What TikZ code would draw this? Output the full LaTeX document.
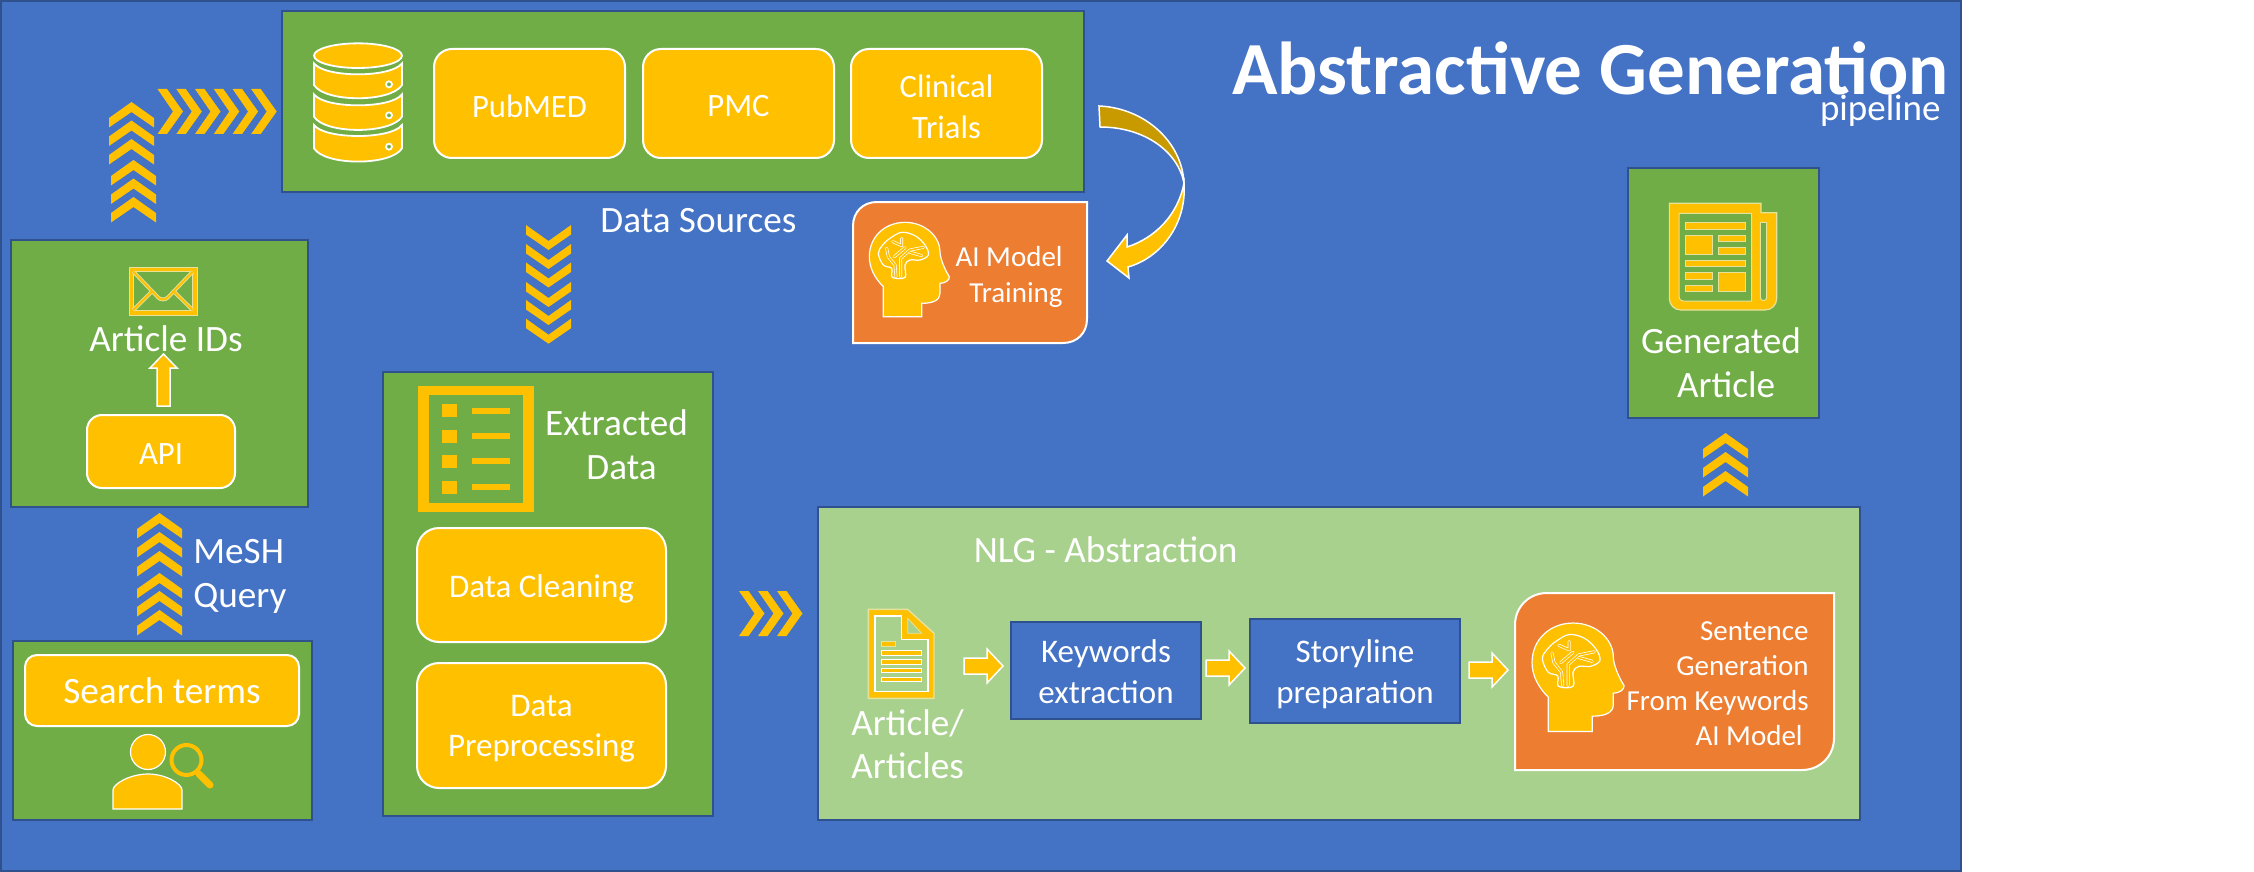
\documentclass[tikz,border=0pt]{standalone}
\usepackage{fontspec}
\setmainfont{Carlito}
\definecolor{bgblue}{HTML}{4472C4}
\definecolor{edgeblue}{HTML}{2F528F}
\definecolor{okgreen}{HTML}{70AD47}
\definecolor{lightgreen}{HTML}{A9D18E}
\definecolor{gold}{HTML}{FFC000}
\definecolor{darkgold}{HTML}{C99A00}
\definecolor{orangebox}{HTML}{ED7D31}
\definecolor{paleedge}{HTML}{E6E29A}
\newcommand\dn[1]{\raisebox{-1.5pt}[\height][\depth]{#1}}
\newcommand\dnb[1]{\raisebox{-2pt}[\height][\depth]{#1}}
\newcommand\dns[1]{\raisebox{-.5pt}[\height][\depth]{#1}}
\tikzset{
  panel/.style={draw=edgeblue,line width=1.25pt,fill=okgreen,inner sep=0pt},
  lightpanel/.style={panel,fill=lightgreen},
  bluebox/.style={panel,fill=bgblue,text=white,font=\fontsize{16.5}{20.5}\selectfont,align=center},
  rbox/.style={draw=white,line width=1pt,fill=gold,text=white,inner sep=0pt,align=center,font=\fontsize{16.3}{20.5}\selectfont},
  lab/.style={text=white,inner sep=0pt,font=\fontsize{18.6}{22}\selectfont},
  chev/.style={fill=gold},
  orbox/.style={fill=orangebox,draw=white,line width=1pt},
  flow/.style={fill=gold,draw=white,line width=.75pt,line join=miter},
  iconfill/.style={fill=gold,draw=paleedge,line width=.5pt},
}
\newcommand\chevU[3]{\fill[chev] ({#1-#3},{#2+16}) -- (#1,#2) -- ({#1+#3},{#2+16}) -- ({#1+#3},{#2+25.5}) -- (#1,{#2+10}) -- ({#1-#3},{#2+25.5}) -- cycle;}
\newcommand\chevD[3]{\fill[chev] ({#1-#3},#2) -- (#1,{#2+16}) -- ({#1+#3},#2) -- ({#1+#3},{#2+9.5}) -- (#1,{#2+25}) -- ({#1-#3},{#2+9.5}) -- cycle;}
\newcommand\chevR[3]{\fill[chev] (#1,#2) -- ({#1+9.5},#2) -- ({#1+25.5},{(#2+#3)/2}) -- ({#1+9.5},#3) -- (#1,#3) -- ({#1+15.5},{(#2+#3)/2}) -- cycle;}
\newcommand\smallflow[2]{\path[flow] (#1,{#2-8}) -- ({#1+23},{#2-8}) -- ({#1+23},{#2-17}) -- ({#1+39},#2) -- ({#1+23},{#2+17}) -- ({#1+23},{#2+8}) -- (#1,{#2+8}) -- cycle;}
\newcommand\headicon[3]{\begin{scope}[shift={(#1,#2)},x=#3pt,y=-#3pt]
  \path[fill=gold,draw=white,line width=.6pt] (70,305) -- (70,215) .. controls (45,190) and (28,160) .. (28,125) .. controls (28,65) and (75,22) .. (135,22) .. controls (195,22) and (240,65) .. (240,110) .. controls (240,130) and (255,165) .. (268,185) .. controls (270,195) and (255,205) .. (240,205) -- (240,235) .. controls (240,255) and (220,265) .. (185,265) -- (185,305) -- cycle;
  \path[fill=gold,draw=white,line width=.6pt] plot[smooth cycle,tension=.6] coordinates {(97,187) (95,160) (70,150) (55,115) (68,90) (90,70) (125,52) (165,62) (195,90) (205,120) (180,135) (150,135) (135,150) (135,187)};
  \foreach \c/\w in {white/1.5pt,gold/.8pt}{
    \draw[\c,line width=\w,line cap=round,line join=round] (108,185) -- (105,150) -- (85,125) -- (80,100);
    \draw[\c,line width=\w,line cap=round,line join=round] (122,185) -- (122,130) -- (150,105) -- (190,97);
    \draw[\c,line width=\w,line cap=round,line join=round] (125,70) -- (125,92) -- (98,80);
    \draw[\c,line width=\w,line cap=round,line join=round] (103,125) -- (135,98);
    \draw[\c,line width=\w,line cap=round,line join=round] (150,112) -- (185,122);
  }
\end{scope}}
\begin{document}
\begin{tikzpicture}[x=0.5pt,y=-0.5pt]
\useasboundingbox (0,0) rectangle (2254,872);
% background
\node[panel,fill=bgblue,minimum width=980pt,minimum height=435pt] (bg) at (981,436) {};
% panels
\node[panel,minimum width=401pt,minimum height=90.5pt] (src) at (683,101.5) {};
\node[panel,minimum width=148.5pt,minimum height=133.5pt] (ids) at (159.5,373.5) {};
\node[panel,minimum width=149.5pt,minimum height=89.5pt] (search) at (162.5,730.5) {};
\node[panel,minimum width=165pt,minimum height=222pt] (ext) at (548,594) {};
\node[lightpanel,minimum width=521pt,minimum height=156.5pt] (nlg) at (1339,663.5) {};
\node[panel,minimum width=95.5pt,minimum height=125pt] (gen) at (1723.5,293) {};
% title
\node[text=white,inner sep=0pt,anchor=base west,font=\fontsize{37.5}{40}\selectfont\bfseries] (title) at (1232,95) {Abstractive Generation};
\node[text=white,inner sep=0pt,anchor=base east,font=\fontsize{18.5}{22}\selectfont] (sub) at (1941,120) {pipeline};
% source boxes
\node[rbox,rounded corners=9pt,minimum width=95.5pt,minimum height=54.5pt] (pubmed) at (529.5,103.5) {\dn{PubMED}};
\node[rbox,rounded corners=9pt,minimum width=95.5pt,minimum height=54.5pt] (pmc) at (738.5,103.5) {\dn{PMC}};
\node[rbox,rounded corners=9pt,minimum width=95.5pt,minimum height=54.5pt] (clinical) at (946.5,103.5) {\dn{Clinical}\\\dn{Trials}};
\node[lab,anchor=base west] (dslabel) at (600,232.5) {Data Sources};
% database icon
\begin{scope}[shift={(305,35)},x=.16667pt,y=-.16667pt]
  \foreach \a/\b in {85/150,178/245,270/340}{
    \path[fill=gold,draw=white,line width=.9pt] (27,\a) .. controls (60,{\a+44}) and (258,{\a+44}) .. (291,\a) -- (291,\b) .. controls (258,{\b+53}) and (60,{\b+53}) .. (27,\b) -- cycle;
  }
  \path[fill=gold,draw=white,line width=.9pt] (159,62) ellipse [x radius=132,y radius=37];
  \foreach \h in {148,241,335}{
    \path[fill=okgreen,draw=white,line width=.9pt] (252,\h) circle [radius=9];
  }
\end{scope}
% chevrons article ids -> sources
\foreach \t in {102,120.5,139}{\chevU{131.5}{\t}{22.5}}
\foreach \t in {160,178.5,197}{\chevU{133.5}{\t}{22.5}}
\foreach \t in {157.5,176.3,195,213.8,232.6,251.2}{\chevR{\t}{89}{134}}
% chevrons sources -> extracted
\foreach \t in {225,244,262.5,282,300,318.7}{\chevD{548.5}{\t}{22.5}}
% curved arrow
\path[fill=darkgold,draw=white,line width=.75pt] (1099,106) .. controls (1145,108) and (1182,142) .. (1184,183) .. controls (1178,152) and (1145,127) .. (1100,127) -- cycle;
\path[fill=gold,draw=white,line width=.75pt] (1184,183) .. controls (1187,225) and (1160,258) .. (1128,267) -- (1129,278) -- (1107,261) -- (1127,235) -- (1127,247) .. controls (1155,238) and (1178,215) .. (1184,183) -- cycle;
% AI training
\path[orbox] (853,343) -- (853,226) .. controls (853,212) and (863,202) .. (877,202) -- (1087,202) -- (1087,319) .. controls (1087,333) and (1077,343) .. (1063,343) -- cycle;
\headicon{860}{215}{.16667}
\node[lab,anchor=east,align=right,font=\fontsize{14.5}{18}\selectfont] (train) at (1063,277) {AI Model\\Training};
% article ids panel
\begin{scope}[shift={(120,260)},x=.16667pt,y=-.16667pt]
  \path[fill=gold,draw=paleedge,line width=.5pt] (27,22) rectangle (232,165);
  \path[fill=okgreen,draw=paleedge,line width=.5pt] (40,35) rectangle (218,150);
  \foreach \c/\w in {paleedge/1.9pt,gold/1pt}{
    \draw[\c,line width=\w] (40,35) -- (115,113) .. controls (122,120) and (136,120) .. (143,113) -- (218,35);
    \draw[\c,line width=\w] (95,95) -- (40,150);
    \draw[\c,line width=\w] (162,95) -- (218,150);
  }
\end{scope}
\node[lab,anchor=base] (artids) at (166,351) {Article IDs};
\path[flow] (157,406) -- (157,368) -- (150,368) -- (163.5,354) -- (177,368) -- (170,368) -- (170,406) -- cycle;
\node[rbox,rounded corners=7.5pt,minimum width=74pt,minimum height=36.5pt] (api) at (161,451.5) {\dn{API}};
% mesh
\foreach \t in {513,532,551,573,591,610}{\chevU{159.5}{\t}{22.5}}
\node[lab,anchor=west,align=left] (mesh) at (193,576.5) {MeSH\\Query};
% search
\node[rbox,rounded corners=6pt,minimum width=137pt,minimum height=35.5pt,font=\fontsize{18.6}{22}\selectfont] (terms) at (162,690.5) {Search terms};
\path[fill=gold,draw=white,line width=.6pt] (148,752) circle [radius=17.5];
\path[fill=gold,draw=white,line width=.6pt] (113,809) -- (113,790) .. controls (113,784) and (130,774) .. (148,774) .. controls (166,774) and (182,784) .. (182,790) -- (182,809) -- cycle;
\draw[gold,line width=2pt] (186.5,760) circle [radius=15];
\draw[gold,line width=3.5pt,line cap=round] (199,774) -- (210,785);
% extracted
\path[fill=gold] (418,386) rectangle (534,512);
\path[fill=okgreen] (429,395) rectangle (523,503);
\foreach \a/\b in {404/411,430/436,455/461,481/487}{
  \fill[gold] (442,\a) rectangle (457,{\a+13});
  \fill[gold] (472,{\b-3}) rectangle (510,{\b+3});
}
\node[lab,anchor=center,align=center] (extl) at (616.5,445) {Extracted\\\hspace*{5pt}Data};
\node[rbox,rounded corners=11pt,minimum width=124.5pt,minimum height=57pt,font=\fontsize{16.5}{20.5}\selectfont] (clean) at (541.5,585) {\dnb{Data Cleaning}};
\node[rbox,rounded corners=11pt,minimum width=124.5pt,minimum height=62.5pt,font=\fontsize{16.5}{20}\selectfont] (prep) at (541.5,725.5) {\dn{Data}\\\dn{Preprocessing}};
% triple chevrons
\foreach \t in {739,758,777}{\chevR{\t}{591}{636}}
% nlg
\node[lab,anchor=base west] (nlgl) at (973.5,562) {NLG - Abstraction};
\begin{scope}[shift={(860,600)},x=.16667pt,y=-.16667pt]
  \path[fill=gold,draw=paleedge,line width=.7pt] (25,28) -- (143,28) -- (222,100) -- (222,295) -- (25,295) -- cycle;
  \path[fill=lightgreen,draw=white,line width=.6pt] (45,48) -- (125,48) -- (125,118) -- (204,118) -- (204,275) -- (45,275) -- cycle;
  \path[fill=lightgreen,draw=paleedge,line width=.4pt] (143,55) -- (185,100) -- (143,100) -- cycle;
  \path[fill=gold,draw=paleedge,line width=.4pt] (64,124) rectangle (106,139);
  \foreach \a/\b in {151/166,178/192,205/218,232/245}{
    \path[fill=gold,draw=white,line width=.4pt] (64,\a) rectangle (185,\b);
  }
\end{scope}
\node[lab,anchor=west,align=left,font=\fontsize{18.6}{21.3}\selectfont] (artl) at (851,744) {Article/\\Articles};
\smallflow{964}{666}
\node[bluebox,minimum width=95pt,minimum height=48.5pt] (kw) at (1106,670.5) {\dns{Keywords}\\\dns{extraction}};
\smallflow{1206}{668}
\node[bluebox,minimum width=105pt,minimum height=52pt] (story) at (1355,671) {\dn{Storyline}\\\dn{preparation}};
\smallflow{1469}{670}
\path[orbox] (1515,770) -- (1515,625) .. controls (1515,607) and (1529,593) .. (1547,593) -- (1834,593) -- (1834,738) .. controls (1834,756) and (1820,770) .. (1802,770) -- cycle;
\headicon{1521.3}{614.6}{.1917}
\node[lab,anchor=east,align=right,font=\fontsize{14.5}{17.5}\selectfont] (sent) at (1809,684) {Sentence\\Generation\\From Keywords\\AI Model\hspace*{3pt}};
% generated
\foreach \t in {433,452,471}{\chevU{1725.5}{\t}{22.5}}
\begin{scope}[shift={(1600,20)},x=.16667pt,y=-.16667pt]
  \path[fill=gold,draw=paleedge,line width=.6pt] (208,550) -- (483,550) -- (483,578) -- (530,578) -- (530,835) .. controls (530,855) and (515,870) .. (495,870) -- (243,870) .. controls (223,870) and (208,855) .. (208,835) -- cycle;
  \path[fill=okgreen,draw=paleedge,line width=.5pt] (237,580) -- (455,580) -- (455,843) -- (250,843) .. controls (242,843) and (237,838) .. (237,830) -- cycle;
  \path[fill=okgreen,draw=paleedge,line width=.5pt] (481,607) -- (500,607) -- (500,832) .. controls (500,845) and (481,845) .. (481,832) -- cycle;
  \path[iconfill] (256,607) rectangle (436,627);
  \path[iconfill] (256,645) rectangle (337,702);
  \path[iconfill] (355,645) rectangle (436,664);
  \path[iconfill] (355,683) rectangle (436,702);
  \path[iconfill] (256,720) rectangle (436,740);
  \path[iconfill] (256,757) rectangle (337,777);
  \path[iconfill] (256,795) rectangle (337,815);
  \path[iconfill] (355,757) rectangle (436,815);
\end{scope}
\node[lab,anchor=center,align=center] (genl) at (1721,363) {Generated\\\hspace*{5pt}Article};
\end{tikzpicture}
\end{document}
